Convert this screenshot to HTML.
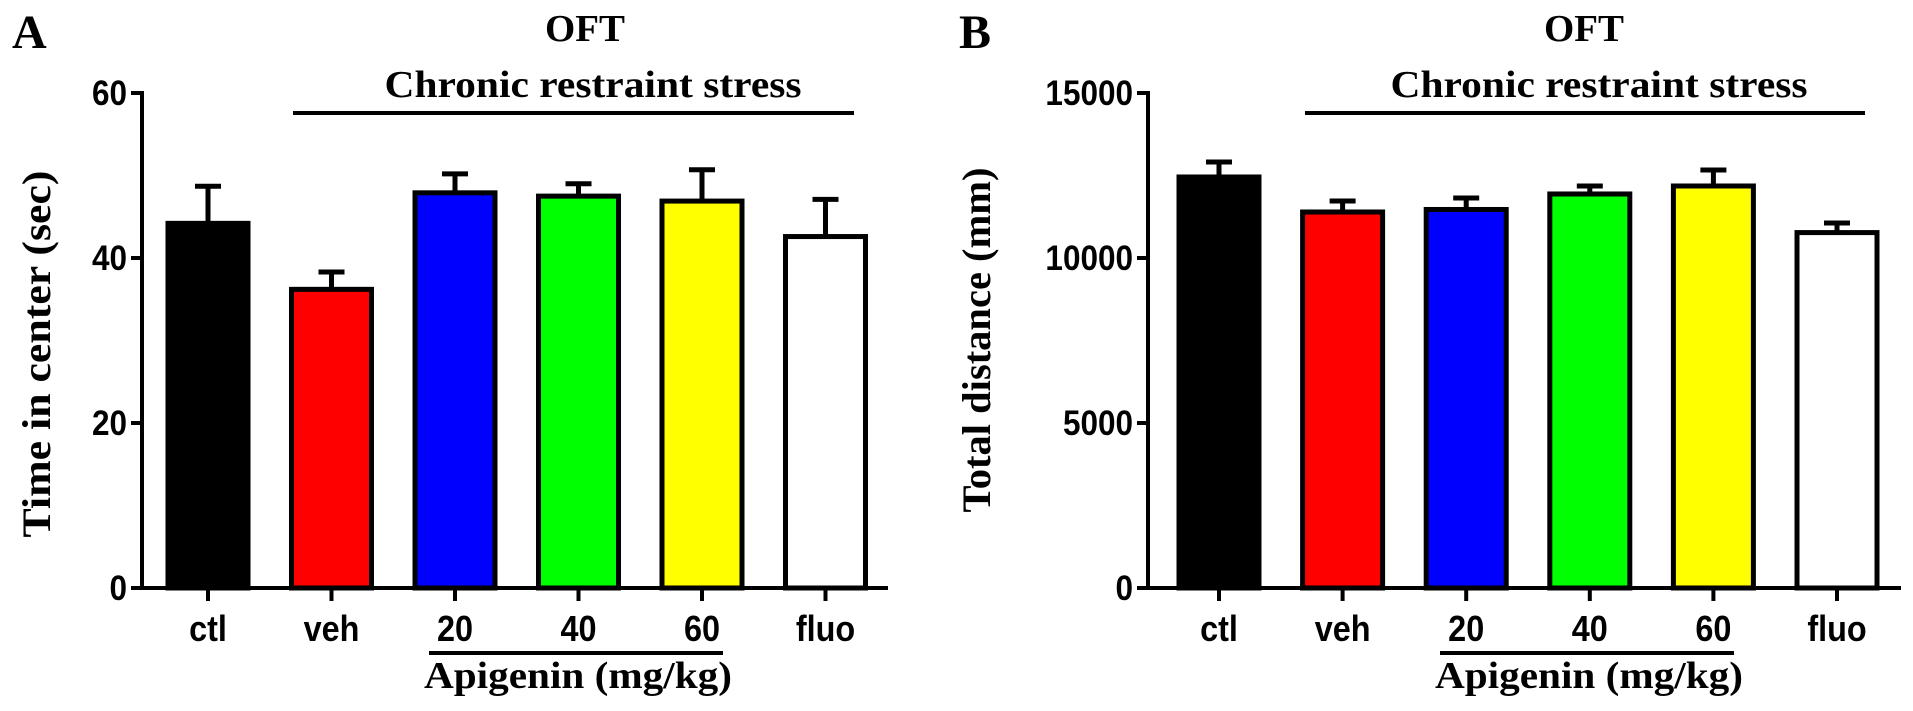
<!DOCTYPE html>
<html><head><meta charset="utf-8"><style>
html,body{margin:0;padding:0;background:#fff;}
svg{display:block;}
.ser{font-family:"Liberation Serif",serif;font-weight:bold;fill:#000;}
.san{font-family:"Liberation Sans",sans-serif;font-weight:bold;fill:#000;}
</style></head><body>
<svg id="fig" width="1913" height="711" viewBox="0 0 1913 711" xmlns="http://www.w3.org/2000/svg"></svg>
<script>
const categories = ["ctl","veh","20","40","60","fluo"];
const colors = ["#000000","#ff0000","#0000ff","#00ff00","#ffff00","#ffffff"];
const timeMeans = [44.2,36.2,47.9,47.5,46.9,42.6];
const timeErr = [4.5,2.1,2.3,1.5,3.8,4.5];
const timeTicks = [0,20,40,60];
const distMeans = [12455,11394,11470,11940,12182,10770];
const distErr = [455,333,348,242,485,290];
const distTicks = [0,5000,10000,15000];

const NS="http://www.w3.org/2000/svg";
const svg=document.getElementById('fig');
function mk(tag,attrs,parent,text){const e=document.createElementNS(NS,tag);for(const k in attrs)e.setAttribute(k,attrs[k]);if(text!==undefined)e.textContent=text;(parent||svg).appendChild(e);return e;}

function panel(o){
  const g=mk('g',{});
  
  
  const y0=588,yTop=93;
  const ys=v=>y0-(v/o.max)*(y0-yTop);
  const xs=i=>o.x0+i*o.step;
  let t=mk('text',{x:o.letterX,y:48,'font-size':48,class:'ser'},g,o.letter);
  
  t=mk('text',{x:o.oftX,y:41,'font-size':38,class:'ser','text-anchor':'middle',textLength:80,lengthAdjust:'spacingAndGlyphs'},g,'OFT');
  
  t=mk('text',{x:o.crsX,y:97,'font-size':38,class:'ser','text-anchor':'middle',textLength:417,lengthAdjust:'spacingAndGlyphs'},g,'Chronic restraint stress');
  
  let l=mk('line',{x1:o.crsL1,x2:o.crsL2,y1:113,y2:113,stroke:'#000','stroke-width':4},g);
  
  t=mk('text',{x:0,y:0,'font-size':40,class:'ser','text-anchor':'middle',transform:`translate(${o.ytX},${o.ytY}) rotate(-90)`,textLength:o.ytLen,lengthAdjust:'spacingAndGlyphs'},g,o.ytitle);
  
  categories.forEach((c,i)=>{
    const cx=xs(i),w=80,top=ys(o.means[i]),et=ys(o.means[i]+o.err[i]);
    const e=mk('line',{x1:cx,x2:cx,y1:top,y2:et,stroke:'#000','stroke-width':5},g);
    
    const cap=mk('line',{x1:cx-13,x2:cx+13,y1:et,y2:et,stroke:'#000','stroke-width':5},g);
    
    const r=mk('rect',{x:cx-w/2,y:top,width:w,height:y0-top,fill:colors[i],stroke:'#000','stroke-width':5},g);
    
    const tk=mk('line',{x1:cx,x2:cx,y1:y0,y2:y0+13,stroke:'#000','stroke-width':4},g);
    
    const lb=mk('text',{x:0,y:0,'font-size':36,class:'san','text-anchor':'middle',transform:`translate(${cx},${641}) scale(0.9,1)`},g,c);
    
  });
  l=mk('line',{x1:o.ax,x2:o.ax,y1:yTop-2,y2:y0+2,stroke:'#000','stroke-width':4},g);
  
  l=mk('line',{x1:o.ax-2,x2:o.axEnd,y1:y0,y2:y0,stroke:'#000','stroke-width':4},g);
  
  o.ticks.forEach(v=>{
    const y=ys(v);
    const tk=mk('line',{x1:o.ax-11,x2:o.ax,y1:y,y2:y,stroke:'#000','stroke-width':4},g);
    
    const lb=mk('text',{x:0,y:0,'font-size':35,class:'san','text-anchor':'end',transform:`translate(${o.ax-15},${y+12}) scale(0.9,1)`},g,String(v));
    
  });
  l=mk('line',{x1:o.apL1,x2:o.apL2,y1:653,y2:653,stroke:'#000','stroke-width':4},g);
  
  t=mk('text',{x:(o.apL1+o.apL2)/2+2,y:688,'font-size':38,class:'ser','text-anchor':'middle',textLength:308,lengthAdjust:'spacingAndGlyphs'},g,'Apigenin (mg/kg)');
  
}
panel({name:'panel-a-time-in-center',letter:'A',letterX:12,oftX:585,crsX:593,crsL1:293,crsL2:854,ytitle:'Time in center (sec)',ytX:50,ytY:354,ytLen:367,
  max:60,ticks:timeTicks,means:timeMeans,err:timeErr,x0:208,step:123.5,ax:142,axEnd:888,apL1:429,apL2:723});
panel({name:'panel-b-total-distance',letter:'B',letterX:959,oftX:1584,crsX:1599,crsL1:1305,crsL2:1865,ytitle:'Total distance (mm)',ytX:990,ytY:340,ytLen:345,
  max:15000,ticks:distTicks,means:distMeans,err:distErr,x0:1219,step:123.6,ax:1148,axEnd:1901,apL1:1440,apL2:1734});
</script>
</body></html>
